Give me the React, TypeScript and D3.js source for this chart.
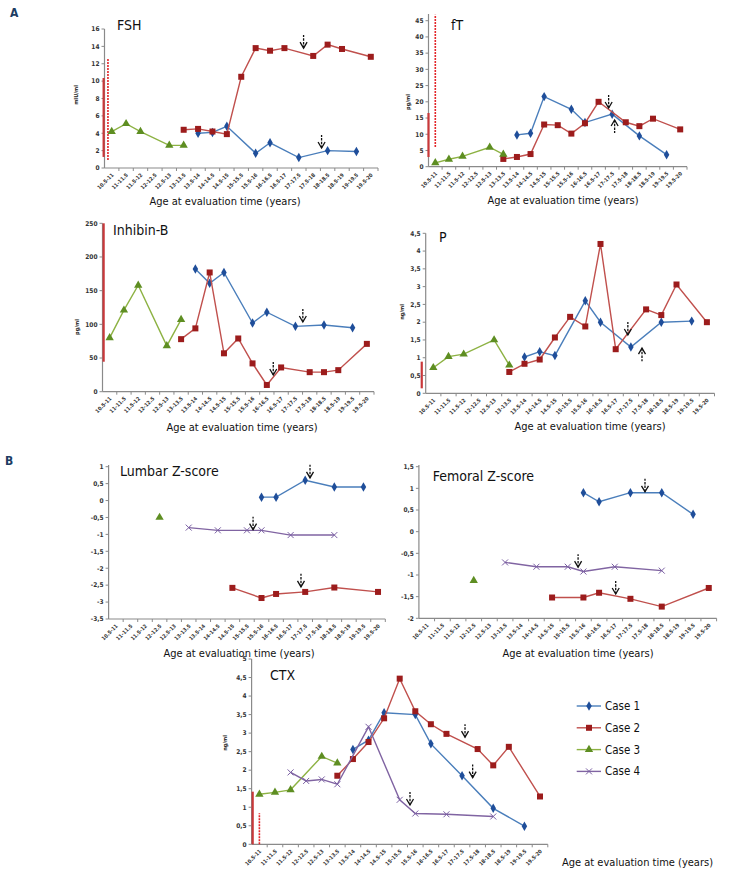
import React from 'react';
import * as d3 from 'd3';

const W = 729;
const H = 874;
const FONT = "'Liberation Sans Narrow', 'Arial Narrow', 'DejaVu Sans Condensed', sans-serif";

const ageBands = ['10.5-11', '11-11.5', '11.5-12', '12-12.5', '12.5-13', '13-13.5', '13.5-14', '14-14.5', '14.5-15', '15-15.5',
  '15.5-16', '16-16.5', '16.5-17', '17-17.5', '17.5-18', '18-18.5', '18.5-19', '19-19.5', '19.5-20'];

const caseNames = ['Case 1', 'Case 2', 'Case 3', 'Case 4'];

type Pt = [string, number];

// FSH (mIU/ml)
const fshCase1: Pt[] = [['13.5-14', 4.0], ['14-14.5', 4.1], ['14.5-15', 4.8], ['15.5-16', 1.7], ['16-16.5', 2.9], ['17-17.5', 1.2], ['18-18.5', 2.0], ['19-19.5', 1.9]];
const fshCase2: Pt[] = [['13-13.5', 4.4], ['13.5-14', 4.5], ['14-14.5', 4.2], ['14.5-15', 3.9], ['15-15.5', 10.5], ['15.5-16', 13.8], ['16-16.5', 13.5], ['16.5-17', 13.8], ['17.5-18', 12.9], ['18-18.5', 14.2], ['18.5-19', 13.7], ['19.5-20', 12.8]];
const fshCase3: Pt[] = [['10.5-11', 4.2], ['11-11.5', 5.1], ['11.5-12', 4.2], ['12.5-13', 2.6], ['13-13.5', 2.6]];

// fT (pg/ml)
const ftCase1: Pt[] = [['13.5-14', 9.8], ['14-14.5', 10.3], ['14.5-15', 21.6], ['15.5-16', 17.7], ['16-16.5', 13.6], ['17-17.5', 16.2], ['18-18.5', 9.5], ['19-19.5', 3.7]];
const ftCase2: Pt[] = [['13-13.5', 2.4], ['13.5-14', 3.0], ['14-14.5', 3.9], ['14.5-15', 13.0], ['15-15.5', 12.8], ['15.5-16', 10.2], ['16-16.5', 13.4], ['16.5-17', 20.0], ['17.5-18', 13.7], ['18-18.5', 12.5], ['18.5-19', 14.8], ['19.5-20', 11.5]];
const ftCase3: Pt[] = [['10.5-11', 1.2], ['11-11.5', 2.3], ['11.5-12', 3.2], ['12.5-13', 6.0], ['13-13.5', 3.8]];

// Inhibin-B (pg/ml)
const inhCase1: Pt[] = [['13.5-14', 182], ['14-14.5', 161], ['14.5-15', 177], ['15.5-16', 102], ['16-16.5', 118], ['17-17.5', 97], ['18-18.5', 99], ['19-19.5', 95]];
const inhCase2: Pt[] = [['13-13.5', 78], ['13.5-14', 94], ['14-14.5', 177], ['14.5-15', 57], ['15-15.5', 79], ['15.5-16', 42], ['16-16.5', 10], ['16.5-17', 36], ['17.5-18', 29], ['18-18.5', 29], ['18.5-19', 32], ['19.5-20', 71]];
const inhCase3: Pt[] = [['10.5-11', 80], ['11-11.5', 121], ['11.5-12', 158], ['12.5-13', 68], ['13-13.5', 107]];

// P (ng/ml)
const pCase1: Pt[] = [['13.5-14', 1.02], ['14-14.5', 1.17], ['14.5-15', 1.06], ['15.5-16', 2.6], ['16-16.5', 2.0], ['17-17.5', 1.3], ['18-18.5', 2.0], ['19-19.5', 2.03]];
const pCase2: Pt[] = [['13-13.5', 0.6], ['13.5-14', 0.83], ['14-14.5', 0.95], ['14.5-15', 1.57], ['15-15.5', 2.15], ['15.5-16', 1.88], ['16-16.5', 4.2], ['16.5-17', 1.24], ['17.5-18', 2.36], ['18-18.5', 2.2], ['18.5-19', 3.06], ['19.5-20', 2.0]];
const pCase3: Pt[] = [['10.5-11', 0.72], ['11-11.5', 1.03], ['11.5-12', 1.1], ['12.5-13', 1.5], ['13-13.5', 0.79]];

// Lumbar Z-score
const lumCase1: Pt[] = [['15.5-16', 0.1], ['16-16.5', 0.1], ['17-17.5', 0.6], ['18-18.5', 0.4], ['19-19.5', 0.4]];
const lumCase2: Pt[] = [['14.5-15', -2.58], ['15.5-16', -2.88], ['16-16.5', -2.76], ['17-17.5', -2.7], ['18-18.5', -2.57], ['19.5-20', -2.7]];
const lumCase3: Pt[] = [['12-12.5', -0.5]];
const lumCase4: Pt[] = [['13-13.5', -0.8], ['14-14.5', -0.88], ['15-15.5', -0.88], ['15.5-16', -0.88], ['16.5-17', -1.02], ['18-18.5', -1.02]];

// Femoral Z-score
const femCase1: Pt[] = [['15.5-16', 0.9], ['16-16.5', 0.69], ['17-17.5', 0.9], ['18-18.5', 0.9], ['19-19.5', 0.4]];
const femCase2: Pt[] = [['14.5-15', -1.52], ['15.5-16', -1.52], ['16-16.5', -1.41], ['17-17.5', -1.55], ['18-18.5', -1.73], ['19.5-20', -1.3]];
const femCase3: Pt[] = [['12-12.5', -1.13]];
const femCase4: Pt[] = [['13-13.5', -0.71], ['14-14.5', -0.81], ['15-15.5', -0.81], ['15.5-16', -0.92], ['16.5-17', -0.81], ['18-18.5', -0.9]];

// CTX (ng/ml)
const ctxCase1: Pt[] = [['13.5-14', 2.56], ['14-14.5', 2.81], ['14.5-15', 3.55], ['15.5-16', 3.5], ['16-16.5', 2.71], ['17-17.5', 1.85], ['18-18.5', 0.97], ['19-19.5', 0.49]];
const ctxCase2: Pt[] = [['13-13.5', 1.85], ['13.5-14', 2.3], ['14-14.5', 2.76], ['14.5-15', 3.4], ['15-15.5', 4.47], ['15.5-16', 3.59], ['16-16.5', 3.24], ['16.5-17', 2.98], ['17.5-18', 2.57], ['18-18.5', 2.13], ['18.5-19', 2.63], ['19.5-20', 1.29]];
const ctxCase3: Pt[] = [['10.5-11', 1.35], ['11-11.5', 1.4], ['11.5-12', 1.47], ['12.5-13', 2.37], ['13-13.5', 2.19]];
const ctxCase4: Pt[] = [['11.5-12', 1.94], ['12-12.5', 1.71], ['12.5-13', 1.75], ['13-13.5', 1.62], ['14-14.5', 3.17], ['15-15.5', 1.2], ['15.5-16', 0.83], ['16.5-17', 0.81], ['18-18.5', 0.75]];

// arrows: [band position (index), value at tip, direction]
type Arrow = [number, number, 'down' | 'up'];
const fshArrows: Arrow[] = [[13.33, 13.8, 'down'], [14.58, 2.3, 'down']];
const ftArrows: Arrow[] = [[12.74, 18.1, 'down'], [13.18, 14.4, 'up']];
const inhArrows: Arrow[] = [[13.52, 103.5, 'down'], [11.45, 24.8, 'down']];
const pArrows: Arrow[] = [[12.8, 1.64, 'down'], [13.73, 1.27, 'up']];
const lumArrows: Arrow[] = [[13.33, 0.67, 'down'], [9.42, -0.86, 'down'], [12.71, -2.55, 'down']];
const femArrows: Arrow[] = [[13.93, 0.92, 'down'], [9.66, -0.82, 'down'], [12.06, -1.44, 'down']];
const ctxArrows: Arrow[] = [[13.19, 2.89, 'down'], [13.68, 1.8, 'down'], [9.66, 1.06, 'down']];

// red vertical bars: [band position (index), from value, to value, dashed]
type Bar = [number, number, number, boolean];
const fshBars: Bar[] = [[-0.56, 1.27, 10.36, false], [-0.26, 0.92, 12.55, true]];
const ftBars: Bar[] = [[-0.5, 2.99, 16.55, false], [0, 6.07, 46.8, true]];
const inhBars: Bar[] = [[-0.42, 44.5, 250, false]];
const pBars: Bar[] = [[-0.76, 0.14, 0.89, false]];
const ctxBars: Bar[] = [[-0.43, 0, 1.42, false], [0, 0, 0.84, true]];

const styles = [
  { line: '#4a7ebb', mark: '#1f4e9a', shape: 'diamond' },
  { line: '#c0504d', mark: '#9c1c1c', shape: 'square' },
  { line: '#8db243', mark: '#5e8e22', shape: 'triangle' },
  { line: '#8064a2', mark: '#7a5fa3', shape: 'cross' },
];

const Marker = ({ shape, color, x, y }: { shape: string; color: string; x: number; y: number }) => {
  if (shape === 'square') return <rect x={x - 3} y={y - 3} width={6} height={6} fill={color} />;
  if (shape === 'cross') {
    return (
      <g stroke={color} strokeWidth={1}>
        <line x1={x - 3} y1={y - 3} x2={x + 3} y2={y + 3} />
        <line x1={x - 3} y1={y + 3} x2={x + 3} y2={y - 3} />
      </g>
    );
  }
  const sym = shape === 'diamond' ? d3.symbolDiamond : d3.symbolTriangle;
  const size = shape === 'diamond' ? 26 : 30;
  return <path d={d3.symbol(sym, size)() || ''} transform={`translate(${x},${y})`} fill={color} />;
};

type Cfg = {
  left: number; right: number; top: number; bottom: number; lineTop: number;
  domain: [number, number]; step: number;
  title: string; titleX: number; titleY: number;
  unit?: string; unitX?: number; unitY?: number;
  xTitleX: number; xTitleY: number; xTitleAnchor?: string;
};

const fmt = (v: number) => String(+v.toFixed(2)).replace('.', ',');

const Panel = ({ cfg, series, arrows, bars }: { cfg: Cfg; series: Pt[][]; arrows: Arrow[]; bars: Bar[] }) => {
  const x = d3.scaleBand().domain(ageBands).range([cfg.left, cfg.right]);
  const bw = x.bandwidth();
  const cx = (c: string) => (x(c) as number) + bw / 2;
  const xi = d3.scaleLinear().domain([-0.5, ageBands.length - 0.5]).range([cfg.left, cfg.right]);
  const y = d3.scaleLinear().domain(cfg.domain).range([cfg.bottom, cfg.top]);
  const ticks = d3.range(cfg.domain[0], cfg.domain[1] + cfg.step / 2, cfg.step);
  const line = d3.line<Pt>().x(d => cx(d[0])).y(d => y(d[1]));

  return (
    <g>
      {/* y axis */}
      <line x1={cfg.left} x2={cfg.left} y1={cfg.bottom} y2={cfg.lineTop} stroke="#8a8a8a" strokeWidth={1.2} />
      {ticks.map(t => (
        <g key={t}>
          <line x1={cfg.left - 3} x2={cfg.left} y1={y(t)} y2={y(t)} stroke="#8a8a8a" />
          <text x={cfg.left - 5} y={y(t)} dy="0.35em" textAnchor="end" fontSize={6.5} fontWeight="bold" fill="#333">{fmt(t)}</text>
        </g>
      ))}
      {/* x axis */}
      <line x1={cfg.left} x2={cfg.right} y1={cfg.bottom} y2={cfg.bottom} stroke="#8a8a8a" strokeWidth={1.2} />
      {ageBands.map((c, i) => (
        <g key={c}>
          <line x1={xi(i + 0.5)} x2={xi(i + 0.5)} y1={cfg.bottom} y2={cfg.bottom + 3} stroke="#8a8a8a" />
          <text transform={`translate(${cx(c) + 1},${cfg.bottom + 6}) rotate(-45)`} textAnchor="end" dy="0.35em" fontSize={5.3} fontWeight="bold" fill="#333">{c}</text>
        </g>
      ))}
      {/* red bars */}
      {bars.map((b, i) => (
        <line key={i} x1={xi(b[0])} x2={xi(b[0])} y1={y(b[1])} y2={y(b[2])}
          stroke={b[3] ? '#e3262a' : '#c9383a'} strokeWidth={b[3] ? 1.6 : 2.2} strokeDasharray={b[3] ? '2,1' : undefined} />
      ))}
      {/* series */}
      {series.map((s, k) => s.length ? (
        <g key={k}>
          {s.length > 1 && <path d={line(s) || ''} fill="none" stroke={styles[k].line} strokeWidth={1.4} />}
          {s.map((d, j) => <Marker key={j} shape={styles[k].shape} color={styles[k].mark} x={cx(d[0])} y={y(d[1])} />)}
        </g>
      ) : null)}
      {/* arrows */}
      {arrows.map((a, i) => {
        const ax = xi(a[0]);
        const ay = y(a[1]);
        const s = a[2] === 'down' ? -1 : 1;
        return (
          <g key={i} stroke="#111" strokeWidth={1.3} fill="none">
            <line x1={ax} x2={ax} y1={ay} y2={ay + s * 13} strokeDasharray="2.5,1.2" />
            <polyline points={`${ax - 3.5},${ay + s * 6} ${ax},${ay} ${ax + 3.5},${ay + s * 6}`} />
          </g>
        );
      })}
      {/* texts */}
      <text x={cfg.titleX} y={cfg.titleY} fontSize={14} fill="#111">{cfg.title}</text>
      {cfg.unit && (
        <text transform={`translate(${cfg.unitX},${cfg.unitY}) rotate(-90)`} textAnchor="middle" fontSize={5.5} fontWeight="bold" fill="#222">{cfg.unit}</text>
      )}
      <text x={cfg.xTitleX} y={cfg.xTitleY} textAnchor={cfg.xTitleAnchor || 'middle'} fontSize={11} fill="#111">Age at evaluation time (years)</text>
    </g>
  );
};

const fshCfg: Cfg = { left: 104.5, right: 378, top: 29, bottom: 168, lineTop: 29, domain: [0, 16], step: 2, title: 'FSH', titleX: 117, titleY: 29.5, unit: 'mIU/ml', unitX: 78, unitY: 95, xTitleX: 225, xTitleY: 205 };
const ftCfg: Cfg = { left: 428.5, right: 687, top: 20.7, bottom: 166.7, lineTop: 14, domain: [0, 45], step: 5, title: 'fT', titleX: 451, titleY: 30, unit: 'pg/ml', unitX: 410, unitY: 102, xTitleX: 563, xTitleY: 204 };
const inhCfg: Cfg = { left: 102.5, right: 374, top: 223.3, bottom: 391.7, lineTop: 223.3, domain: [0, 250], step: 50, title: 'Inhibin-B', titleX: 113, titleY: 235, unit: 'pg/ml', unitX: 79, unitY: 327, xTitleX: 242, xTitleY: 431 };
const pCfg: Cfg = { left: 425.7, right: 714.5, top: 233.3, bottom: 393.3, lineTop: 233.3, domain: [0, 4.5], step: 0.5, title: 'P', titleX: 439, titleY: 241.7, unit: 'ng/ml', unitX: 404, unitY: 312, xTitleX: 590, xTitleY: 430 };
const lumCfg: Cfg = { left: 108.6, right: 385.3, top: 466.7, bottom: 619, lineTop: 465, domain: [-3.5, 1], step: 0.5, title: 'Lumbar Z-score', titleX: 120, titleY: 475.7, xTitleX: 239, xTitleY: 657 };
const femCfg: Cfg = { left: 418.9, right: 716.6, top: 466.7, bottom: 618.3, lineTop: 465, domain: [-2, 1.5], step: 0.5, title: 'Femoral Z-score', titleX: 432.7, titleY: 481, xTitleX: 578, xTitleY: 657 };
const ctxCfg: Cfg = { left: 251.6, right: 547.8, top: 659, bottom: 844.3, lineTop: 659, domain: [0, 5], step: 0.5, title: 'CTX', titleX: 270, titleY: 680, unit: 'ng/ml', unitX: 227, unitY: 743, xTitleX: 562, xTitleY: 866, xTitleAnchor: 'start' };

const Legend = () => (
  <g>
    {caseNames.map((name, i) => {
      const ly = 706 + i * 21.8;
      return (
        <g key={name}>
          <line x1={576.7} x2={601} y1={ly} y2={ly} stroke={styles[i].line} strokeWidth={1.4} />
          <Marker shape={styles[i].shape} color={styles[i].mark} x={589} y={ly} />
          <text x={605} y={ly} dy="0.35em" fontSize={11.5} fill="#111">{name}</text>
        </g>
      );
    })}
  </g>
);

export default function App() {
  return (
    <svg width={W} height={H} style={{ position: 'absolute', left: 0, top: 0, background: '#fff' }} fontFamily={FONT}>
      <rect width={W} height={H} fill="#fff" />
      <text x={10} y={17} fontSize={12} fontWeight="bold" fill="#1d3d63">A</text>
      <text x={5} y={465} fontSize={12} fontWeight="bold" fill="#1d3d63">B</text>
      <Panel cfg={fshCfg} series={[fshCase1, fshCase2, fshCase3, []]} arrows={fshArrows} bars={fshBars} />
      <Panel cfg={ftCfg} series={[ftCase1, ftCase2, ftCase3, []]} arrows={ftArrows} bars={ftBars} />
      <Panel cfg={inhCfg} series={[inhCase1, inhCase2, inhCase3, []]} arrows={inhArrows} bars={inhBars} />
      <Panel cfg={pCfg} series={[pCase1, pCase2, pCase3, []]} arrows={pArrows} bars={pBars} />
      <Panel cfg={lumCfg} series={[lumCase1, lumCase2, lumCase3, lumCase4]} arrows={lumArrows} bars={[]} />
      <Panel cfg={femCfg} series={[femCase1, femCase2, femCase3, femCase4]} arrows={femArrows} bars={[]} />
      <Panel cfg={ctxCfg} series={[ctxCase1, ctxCase2, ctxCase3, ctxCase4]} arrows={ctxArrows} bars={ctxBars} />
      <Legend />
    </svg>
  );
}
